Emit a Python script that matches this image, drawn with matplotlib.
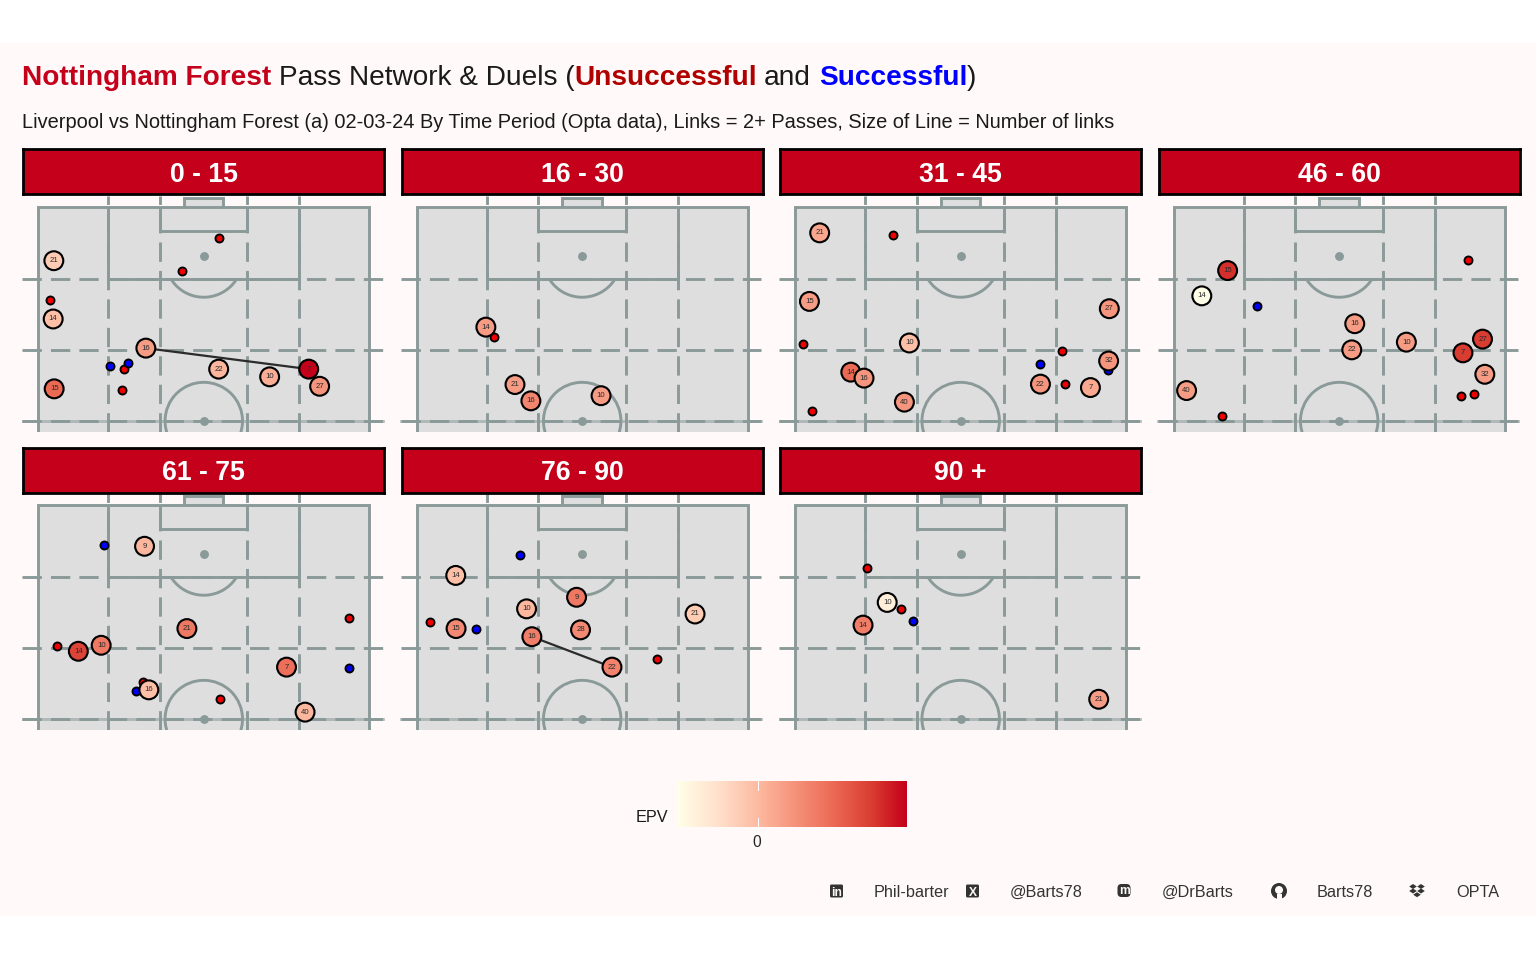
import matplotlib
matplotlib.use("Agg")
import matplotlib.pyplot as plt
from matplotlib.colors import LinearSegmentedColormap, Normalize
from matplotlib.patches import Rectangle, Ellipse, FancyBboxPatch, Circle, Polygon
import numpy as np

plt.rcParams['font.family'] = ['Liberation Sans', 'DejaVu Sans']
plt.rcParams['lines.scale_dashes'] = False

W, H, DPI = 1536, 960, 160
BG = '#FFF9F9'
RED = '#C4001A'
LINE = '#8A9A98'
LW = 1.3

titles = ['0 - 15', '16 - 30', '31 - 45', '46 - 60', '61 - 75', '76 - 90', '90 +']

# players: shirt numbers, pitch x, pitch y, EPV
p1_num = [21, 14, 16, 22, 10, 7, 27, 15]
p1_x = [4.7, 4.5, 32.5, 54.5, 69.9, 81.7, 85.0, 4.8]
p1_y = [87.4, 73.8, 67.0, 62.1, 60.3, 62.1, 58.1, 57.5]
p1_epv = [-0.008, -0.002, 0.012, 0.002, 0.005, 0.065, 0.015, 0.033]
p2_num = [14, 21, 16, 10]
p2_x = [20.9, 29.7, 34.5, 55.7]
p2_y = [71.9, 58.5, 54.7, 55.9]
p2_epv = [0.012, 0.012, 0.022, 0.012]
p3_num = [21, 15, 10, 14, 16, 40, 27, 32, 22, 7]
p3_x = [7.4, 4.3, 34.5, 16.8, 20.8, 33.0, 94.9, 94.7, 74.1, 89.2]
p3_y = [93.9, 77.9, 68.2, 61.4, 60.0, 54.4, 76.2, 64.0, 58.6, 57.8]
p3_epv = [0.008, 0.012, -0.002, 0.033, 0.015, 0.015, 0.015, 0.015, 0.015, 0.007]
p4_num = [15, 14, 16, 22, 10, 7, 27, 32, 40]
p4_x = [16.3, 8.5, 54.7, 53.8, 70.3, 87.4, 93.3, 94.0, 3.9]
p4_y = [85.1, 79.2, 72.7, 66.6, 68.4, 65.9, 69.1, 60.9, 57.1]
p4_epv = [0.053, -0.035, 0.012, 0.012, 0.012, 0.050, 0.050, 0.012, 0.012]
p5_num = [9, 21, 10, 14, 7, 16, 40]
p5_x = [32.1, 44.9, 19.0, 12.1, 75.0, 33.4, 80.6]
p5_y = [90.3, 71.1, 67.2, 65.8, 62.1, 56.8, 51.6]
p5_epv = [0.002, 0.027, 0.027, 0.047, 0.031, -0.002, 0.001]
p6_num = [14, 10, 9, 15, 28, 16, 22, 21]
p6_x = [11.8, 33.2, 48.3, 11.9, 49.5, 34.8, 59.0, 84.1]
p6_y = [83.5, 75.7, 78.4, 71.1, 70.8, 69.2, 62.1, 74.5]
p6_epv = [-0.002, 0.001, 0.027, 0.020, 0.020, 0.025, 0.023, -0.007]
p7_num = [10, 14, 21]
p7_x = [27.8, 20.5, 91.7]
p7_y = [77.2, 71.9, 54.6]
p7_epv = [-0.025, 0.025, 0.012]

# unsuccessful duels
r1_x = [54.7, 43.4, 3.4, 26.0, 25.2]
r1_y = [92.7, 85.1, 78.2, 62.2, 57.2]
r2_x = [23.4]
r2_y = [69.5]
r3_x = [29.5, 2.4, 5.0, 80.5, 81.5]
r3_y = [93.5, 68.0, 52.4, 66.4, 58.6]
r4_x = [88.8, 14.5, 86.8, 90.8]
r4_y = [87.6, 51.2, 55.8, 56.4]
r5_x = [5.6, 31.7, 55.0, 94.0]
r5_y = [67.1, 58.7, 54.6, 73.5]
r6_x = [4.1, 72.7]
r6_y = [72.6, 64.1]
r7_x = [21.6, 32.1]
r7_y = [85.2, 75.6]

# successful duels
b1_x = [21.7, 27.2]
b1_y = [62.8, 63.6]
b2_x = []
b2_y = []
b3_x = [73.9, 94.5]
b3_y = [63.3, 61.8]
b4_x = [25.3]
b4_y = [76.9]
b5_x = [19.8, 29.6, 94.0]
b5_y = [90.7, 56.6, 62.0]
b6_x = [31.3, 17.9]
b6_y = [88.2, 71.0]
b7_x = [35.6]
b7_y = [72.9]

# pass links: (from shirt, to shirt)
l1 = [(16, 7)]
l6 = [(16, 22)]

players = [(p1_num, p1_x, p1_y, p1_epv), (p2_num, p2_x, p2_y, p2_epv), (p3_num, p3_x, p3_y, p3_epv),
           (p4_num, p4_x, p4_y, p4_epv), (p5_num, p5_x, p5_y, p5_epv), (p6_num, p6_x, p6_y, p6_epv),
           (p7_num, p7_x, p7_y, p7_epv)]
reds = [(r1_x, r1_y), (r2_x, r2_y), (r3_x, r3_y), (r4_x, r4_y), (r5_x, r5_y), (r6_x, r6_y), (r7_x, r7_y)]
blues = [(b1_x, b1_y), (b2_x, b2_y), (b3_x, b3_y), (b4_x, b4_y), (b5_x, b5_y), (b6_x, b6_y), (b7_x, b7_y)]
links = [l1, [], [], [], [], l6, []]

EPV_MIN, EPV_MAX = -0.035, 0.065
cmap = LinearSegmentedColormap.from_list('epv', [
    (0.0, '#FFFFE8'), (0.17, '#FFE2CE'), (0.35, '#FDBBA1'), (0.5, '#F6957D'),
    (0.68, '#EC6A55'), (0.85, '#D93C30'), (1.0, '#C4001A')])
norm = Normalize(EPV_MIN, EPV_MAX)

fig = plt.figure(figsize=(W / DPI, H / DPI), dpi=DPI, facecolor='white')


def px_axes(x0, y0, x1, y1, **kw):
    return fig.add_axes([x0 / W, 1 - y1 / H, (x1 - x0) / W, (y1 - y0) / H], **kw)


ov = px_axes(0, 0, W, H, zorder=0)
ov.set_xlim(0, W)
ov.set_ylim(H, 0)
ov.axis('off')
ov.add_patch(Rectangle((0, 43), W, 873, fc=BG, ec='none'))

TS = 12.6
for s, x, c, wgt in [('Nottingham Forest', 22, RED, 'bold'),
                     ('Pass Network & Duels (', 279, '#1A1A1A', 'normal'),
                     ('Unsuccessful', 574.5, '#B00000', 'bold'),
                     ('and', 764, '#1A1A1A', 'normal'),
                     ('Successful', 819, '#0000FF', 'bold'),
                     (')', 967, '#1A1A1A', 'normal')]:
    ov.text(x, 75, s, color=c, fontsize=TS, fontweight=wgt, va='center_baseline', ha='left')
ov.text(22, 120.5, 'Liverpool vs Nottingham Forest (a) 02-03-24 By Time Period (Opta data), '
        'Links = 2+ Passes, Size of Line = Number of links',
        color='#1A1A1A', fontsize=9.0, va='center_baseline', ha='left')

PX_L = [22, 400.4, 778.9, 1157.4]
PW = 363.5
ROW_T = [149, 447]
STRIP_OFF = [0, 1]
STRIP_H = 46
PANEL_H = 236
ARC_T = np.radians(np.linspace(212, 328, 60))


def pitch(ax):
    kw = dict(color=LINE, lw=LW, solid_capstyle='butt', solid_joinstyle='miter', zorder=2)
    ax.add_patch(Rectangle((0, 40), 100, 60, fc='#DEDEDE', ec='none', zorder=1))
    ax.add_patch(Rectangle((44, 100), 11.9, 2, fc='#DEDEDE', ec='none', zorder=1))
    dash = dict(color=LINE, lw=LW, dashes=(8.7, 4.1), dash_capstyle='butt', zorder=2)
    for v in [21.1, 36.8, 63.1, 78.9]:
        ax.plot([v, v], [47.43, 102.5], **dash)
    for h in [50, 66.6, 83.1]:
        ax.plot([-4.8, 104.1], [h, h], **dash)
    ax.plot([0, 0, 100, 100], [47, 100, 100, 47], **kw)
    ax.plot([21.1, 21.1, 78.9, 78.9], [100, 83.1, 83.1, 100], **kw)
    ax.plot([36.8, 36.8, 63.1, 63.1], [100, 94.3, 94.3, 100], **kw)
    ax.plot([44, 44, 55.9, 55.9], [100, 102, 102, 100], **kw)
    ax.plot([-4.8, 104.1], [50, 50], color=LINE, lw=LW, alpha=0.55, zorder=2)
    ax.plot(50 + 11.7 * np.cos(ARC_T), 87.9 + 9.02 * np.sin(ARC_T), **kw)
    ax.add_patch(Ellipse((50, 50), 23.4, 18.04, fc='none', ec=LINE, lw=LW, zorder=2))
    ax.scatter([50, 50], [88.5, 50], s=16, c=LINE, linewidths=0, zorder=2)


for i, t in enumerate(titles):
    r, c = divmod(i, 4)
    x0, y0 = PX_L[c], ROW_T[r]
    so = STRIP_OFF[r]
    st = px_axes(x0 + 1.4, y0 + 0.4 + so, x0 + PW - 1.4, y0 + STRIP_H - 1.4 + so, zorder=2)
    st.set_facecolor(RED)
    st.set_xticks([])
    st.set_yticks([])
    for sp in st.spines.values():
        sp.set_linewidth(1.25)
        sp.set_color('black')
    st.text(0.5, 0.5, t, transform=st.transAxes, color='white', fontsize=12, fontweight='bold',
            ha='center', va='center_baseline')

    ax = px_axes(x0, y0 + STRIP_H + 1, x0 + PW, y0 + STRIP_H + 1 + PANEL_H, zorder=1)
    ax.set_xlim(-4.92, 104.9)
    ax.set_ylim(47.43, 102.5)
    ax.axis('off')
    pitch(ax)

    num, xs, ys, ev = players[i]
    for a, b in links[i]:
        ia, ib = num.index(a), num.index(b)
        ax.plot([xs[ia], xs[ib]], [ys[ia], ys[ib]], color='#2B2B2B', lw=1.0, zorder=3,
                solid_capstyle='butt')
    ax.scatter(*reds[i], s=13, c='#F00000', edgecolors='black', linewidths=0.85, zorder=4, clip_on=False)
    ax.scatter(*blues[i], s=13, c='#0000FF', edgecolors='black', linewidths=0.85, zorder=4, clip_on=False)
    ax.scatter(xs, ys, s=72, c=ev, cmap=cmap, norm=norm, edgecolors='black', linewidths=0.95, zorder=5,
               clip_on=False)
    for n, px_, py_ in zip(num, xs, ys):
        ax.text(px_, py_, str(n), fontsize=3.5, color='#2A2A2A', ha='center', va='center', zorder=6)

# colour legend
cb = px_axes(677, 781, 907, 827, zorder=2)
grad = np.linspace(EPV_MIN, EPV_MAX, 256).reshape(1, -1)
cb.imshow(grad, aspect='auto', cmap=cmap, norm=norm, extent=[EPV_MIN, EPV_MAX, 0, 1])
cb.axis('off')
cb.plot([0, 0], [0, 0.2], color='white', lw=0.45)
cb.plot([0, 0], [0.8, 1], color='white', lw=0.45)
ov.text(668, 816, 'EPV', fontsize=7.3, color='#1A1A1A', ha='right', va='center_baseline')
ov.text(757, 841, '0', fontsize=7.0, color='#262626', ha='center', va='center_baseline')

# caption with hand-drawn social icons
CAP = '#333333'
for s, x in [('Phil-barter', 874), ('@Barts78', 1010), ('@DrBarts', 1162), ('Barts78', 1317), ('OPTA', 1456)]:
    ov.text(x, 890.7, s, fontsize=7.3, color=CAP, ha='left', va='center_baseline')

for cx in [836.5, 972.5]:
    ov.add_patch(FancyBboxPatch((cx - 6.5, 884.5), 13, 13, boxstyle='round,pad=0,rounding_size=1.5',
                                fc=CAP, ec='none'))
ov.text(836.8, 891, 'in', fontsize=5.4, fontweight='bold', color=BG, ha='center', va='center_baseline')
ov.text(972.5, 891, 'X', fontsize=5.4, fontweight='bold', color=BG, ha='center', va='center_baseline')
ov.add_patch(FancyBboxPatch((1117.5, 884), 13, 13, boxstyle='round,pad=0,rounding_size=4', fc=CAP, ec='none'))
ov.text(1124, 889.5, 'm', fontsize=5.4, fontweight='bold', color=BG, ha='center', va='center_baseline')
ov.add_patch(Circle((1279, 891), 8, fc=CAP, ec='none'))
ov.add_patch(Circle((1279, 890), 4, fc=BG, ec='none'))
ov.add_patch(Rectangle((1276.5, 894), 5, 5.5, fc=BG, ec='none'))
for dx, dy in [(-4, -3), (4, -3), (-4, 1.5), (4, 1.5), (0, 5.2)]:
    ov.add_patch(Polygon([(1417 + dx - 3.8, 889.5 + dy), (1417 + dx, 887 + dy),
                          (1417 + dx + 3.8, 889.5 + dy), (1417 + dx, 892 + dy)], fc=CAP, ec='none'))

fig.savefig('out.png', dpi=DPI, facecolor='white')
